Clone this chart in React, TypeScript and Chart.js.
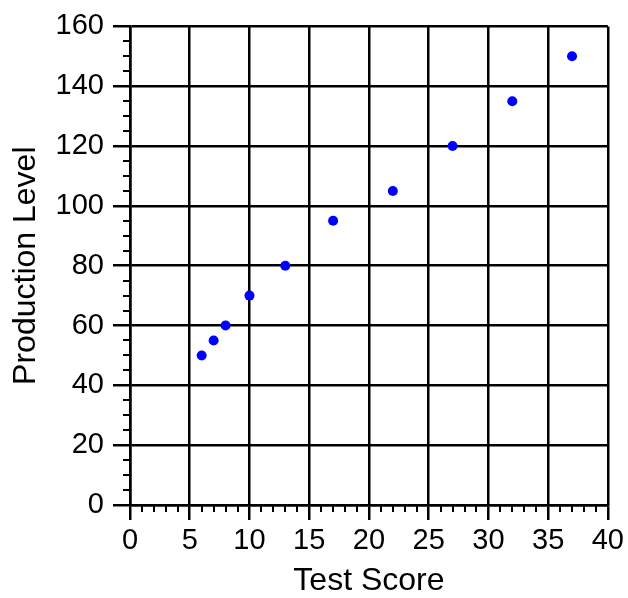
import React, { useEffect, useRef } from "react";
import { Chart, registerables } from "chart.js";

Chart.register(...registerables);

const testScores = [6, 7, 8, 10, 13, 17, 22, 27, 32, 37];
const productionLevels = [50, 55, 60, 70, 80, 95, 105, 120, 135, 150];
const xRange = [0, 40];
const yRange = [0, 160];
const xMajorStep = 5;
const xMinorStep = 1;
const yMajorStep = 20;
const yMinorStep = 5;
const xTitle = "Test Score";
const yTitle = "Production Level";

const FONT = "'Liberation Sans', Arial, sans-serif";

const minorTicks = {
  id: "minorTicks",
  afterDraw(chart: any) {
    const { ctx, chartArea } = chart;
    const xs = chart.scales.x;
    const ys = chart.scales.y;
    ctx.save();
    ctx.strokeStyle = "#000";
    ctx.lineWidth = 2;
    ctx.beginPath();
    for (let v = xRange[0]; v <= xRange[1]; v += xMinorStep) {
      if (v % xMajorStep === 0) continue;
      const px = Math.round(xs.getPixelForValue(v));
      ctx.moveTo(px, chartArea.bottom);
      ctx.lineTo(px, chartArea.bottom + 7);
    }
    for (let v = yRange[0]; v <= yRange[1]; v += yMinorStep) {
      if (v % yMajorStep === 0) continue;
      const py = Math.round(ys.getPixelForValue(v));
      ctx.moveTo(chartArea.left, py);
      ctx.lineTo(chartArea.left - 7, py);
    }
    ctx.stroke();
    ctx.restore();
  },
};

export default function App() {
  const ref = useRef<HTMLCanvasElement>(null);
  useEffect(() => {
    if (!ref.current) return;
    const chart = new Chart(ref.current, {
      type: "scatter",
      data: {
        datasets: [
          {
            data: testScores.map((x, i) => ({ x, y: productionLevels[i] })),
            backgroundColor: "#0000ff",
            borderWidth: 0,
            pointRadius: 5,
          },
        ],
      },
      options: {
        responsive: false,
        animation: false,
        devicePixelRatio: 1,
        layout: { padding: { top: 25, right: 18, left: 0, bottom: 0 } },
        plugins: { legend: { display: false }, tooltip: { enabled: false } },
        scales: {
          x: {
            type: "linear",
            min: xRange[0],
            max: xRange[1],
            afterFit: (s: any) => {
              s.height = 93;
            },
            ticks: {
              stepSize: xMajorStep,
              color: "#000",
              padding: 4,
              maxRotation: 0,
              font: { family: FONT, size: 29 },
            },
            grid: { color: "#000", lineWidth: 2.5, tickLength: 15, tickColor: "#000", tickWidth: 2.5 },
            border: { display: true, color: "#000", width: 2.5 },
            title: {
              display: true,
              text: xTitle,
              color: "#000",
              font: { family: FONT, size: 32, lineHeight: 1.0 },
              padding: { top: 0, bottom: 1 },
            },
          },
          y: {
            type: "linear",
            min: yRange[0],
            max: yRange[1],
            afterFit: (s: any) => {
              s.width = 130;
            },
            ticks: {
              stepSize: yMajorStep,
              color: "#000",
              padding: 9,
              font: { family: FONT, size: 29 },
            },
            grid: { color: "#000", lineWidth: 2.5, tickLength: 17, tickColor: "#000", tickWidth: 2.5 },
            border: { display: true, color: "#000", width: 2.5 },
            title: {
              display: true,
              text: yTitle,
              color: "#000",
              font: { family: FONT, size: 32 },
              padding: { top: 7, bottom: 0 },
            },
          },
        },
      },
      plugins: [minorTicks],
    });
    return () => chart.destroy();
  }, []);
  return (
    <div style={{ position: "fixed", left: 0, top: 0, width: 628, height: 598, background: "#fff" }}>
      <canvas ref={ref} width={628} height={598} style={{ display: "block" }} />
    </div>
  );
}
